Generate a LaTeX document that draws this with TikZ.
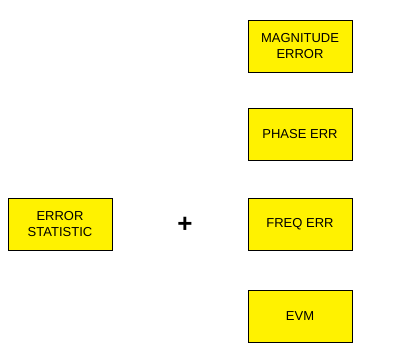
\documentclass[tikz,border=0pt]{standalone}
\usepackage{fontspec}
\setmainfont{Liberation Sans}
\begin{document}
\begin{tikzpicture}[x=1pt,y=-1pt,
  ybox/.style={draw=black, line width=0.8pt, fill=yellow, minimum width=104pt, minimum height=52pt, align=center, font=\fontsize{13}{16}\selectfont, inner sep=0pt}]
\useasboundingbox[fill=white] (0,0) rectangle (402,352);
\node[ybox] (mag) at (300,46) {MAGNITUDE\\ERROR};
\node[ybox] (phase) at (300,134) {PHASE ERR};
\node[ybox] (freq) at (300,224) {FREQ ERR};
\node[ybox] (evm) at (300,316) {EVM};
\node[ybox] (stat) at (60,224) {ERROR\\STATISTIC};
\node[font=\fontsize{26}{26}\selectfont\bfseries] (plus) at (185,225) {+};
\end{tikzpicture}
\end{document}
